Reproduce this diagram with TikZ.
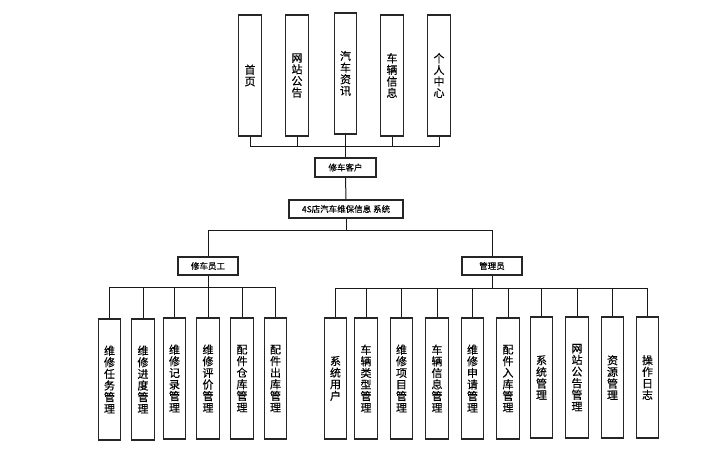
\documentclass[tikz,border=0pt]{standalone}
\usepackage{fontspec}
\setmainfont{Noto Sans CJK SC}
\newfontfamily\cjkb[FakeBold=0.35]{Noto Sans CJK SC}
\begin{document}
\begin{tikzpicture}[x=1pt,y=-1pt,
  vbox/.style={draw=black!85,line width=1.2pt,minimum width=22.5pt,minimum height=121pt,inner sep=0pt,align=center,font=\cjkb\fontsize{11}{11.6}\selectfont},
  hbox/.style={draw=black!85,line width=1.2pt,minimum height=18pt,inner sep=0pt,font=\cjkb\fontsize{8.5}{10}\selectfont},
  conn/.style={line width=1pt,black!90}]
\useasboundingbox (0,0) rectangle (703,458);
% top boxes
\node[vbox] (t1) at (250,75.5) {首\\页};
\node[vbox] (t2) at (297,75.5) {网\\站\\公\\告};
\node[vbox] (t3) at (345.5,73.5) {汽\\车\\资\\讯};
\node[vbox] (t4) at (392,75.5) {车\\辆\\信\\息};
\node[vbox] (t5) at (439,75.5) {个\\人\\中\\心};
% middle
\node[hbox,minimum width=61pt,minimum height=19pt] (kh) at (345.5,167.5) {修车客户};
\node[hbox,minimum width=114pt] (sys) at (346,209) {4S店汽车维保信息 系统};
\node[hbox,minimum width=60pt] (emp) at (208,266) {修车员工};
\node[hbox,minimum width=60pt] (adm) at (492,266) {管理员};
% bottom left
\node[vbox] (l1) at (109.5,379.5) {维\\修\\任\\务\\管\\理};
\node[vbox] (l2) at (143,379.5) {维\\修\\进\\度\\管\\理};
\node[vbox] (l3) at (174.5,378.5) {维\\修\\记\\录\\管\\理};
\node[vbox] (l4) at (208,378.5) {维\\修\\评\\价\\管\\理};
\node[vbox] (l5) at (242,378.5) {配\\件\\仓\\库\\管\\理};
\node[vbox] (l6) at (275.5,378.5) {配\\件\\出\\库\\管\\理};
% bottom right
\node[vbox] (r1) at (335.5,378.5) {系\\统\\用\\户};
\node[vbox] (r2) at (366,378.5) {车\\辆\\类\\型\\管\\理};
\node[vbox] (r3) at (401.5,378.5) {维\\修\\项\\目\\管\\理};
\node[vbox] (r4) at (437,378.5) {车\\辆\\信\\息\\管\\理};
\node[vbox] (r5) at (472.5,378.5) {维\\修\\申\\请\\管\\理};
\node[vbox] (r6) at (508,378.5) {配\\件\\入\\库\\管\\理};
\node[vbox] (r7) at (541.5,377.5) {系\\统\\管\\理};
\node[vbox] (r8) at (577,377.5) {网\\站\\公\\告\\管\\理};
\node[vbox] (r9) at (612.5,377.5) {资\\源\\管\\理};
\node[vbox] (r10) at (647.5,377.5) {操\\作\\日\\志};
% connectors top
\coordinate (busT) at (345.5,146);
\draw[conn] (t1.south) -- (t1.south |- busT) -- (t5.south |- busT) -- (t5.south);
\foreach \n in {t2,t4} \draw[conn] (\n.south) -- (\n.south |- busT);
\draw[conn,line width=1.5pt] (t3.south) -- (kh.north);
\draw[conn] (kh.south) -- (sys.north);
% middle bus
\coordinate (busM) at (346,230);
\draw[conn] (sys.south) -- (sys.south |- busM);
\draw[conn] (emp.north) -- (emp.north |- busM) -- (adm.north |- busM) -- (adm.north);
% left bus
\coordinate (busL) at (208,287);
\draw[conn] (emp.south) -- (emp.south |- busL);
\draw[conn] (l1.north) -- (l1.north |- busL) -- (l6.north |- busL) -- (l6.north);
\foreach \n in {l2,l3,l4,l5} \draw[conn] (\n.north) -- (\n.north |- busL);
% right bus
\coordinate (busR) at (492,288);
\draw[conn] (adm.south) -- (adm.south |- busR);
\draw[conn] (r1.north) -- (r1.north |- busR) -- (r10.north |- busR) -- (r10.north);
\foreach \n in {r2,r3,r4,r5,r6,r7,r8,r9} \draw[conn] (\n.north) -- (\n.north |- busR);
\end{tikzpicture}
\end{document}
